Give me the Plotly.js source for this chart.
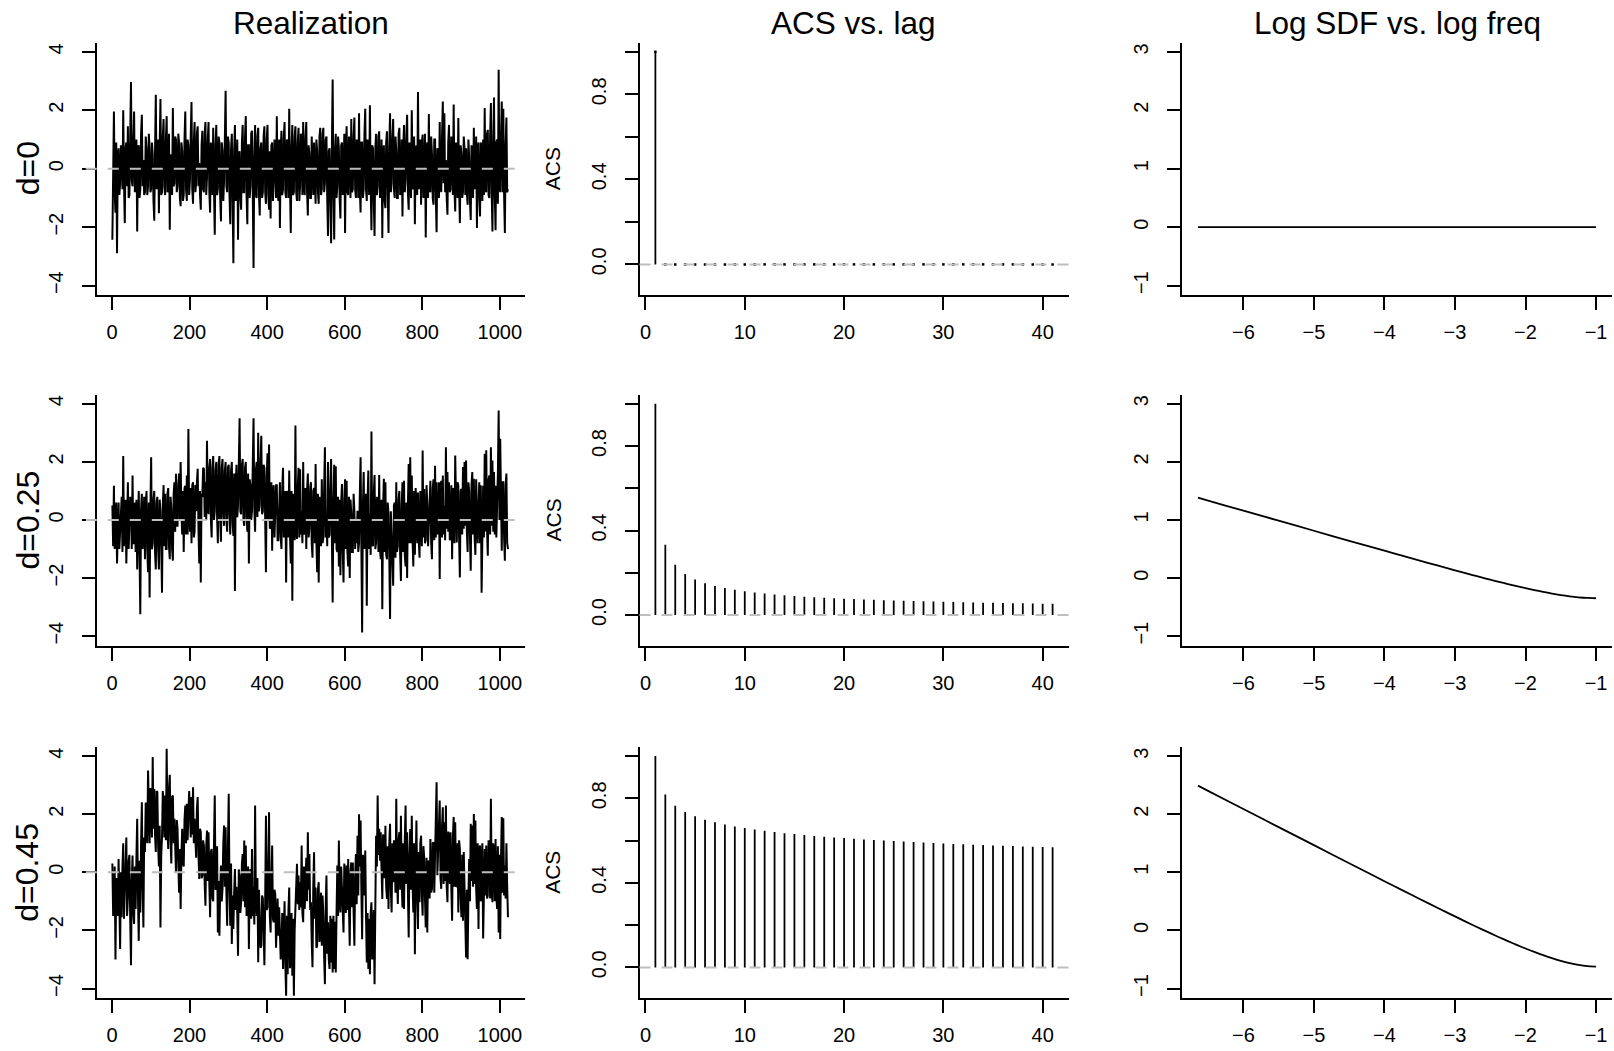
<!DOCTYPE html>
<html>
<head>
<meta charset="utf-8">
<script src="https://cdn.plot.ly/plotly-3.0.1.min.js"></script>
<style>html,body{margin:0;padding:0;background:#fff;}#chart{width:1614px;height:1051px;}</style>
</head>
<body>
<div id="chart"></div>
<script>
// ---------------- data ----------------
const rowLabels = ["d=0", "d=0.25", "d=0.45"];
const colTitles = ["Realization", "ACS vs. lag", "Log SDF vs. log freq"];

// realizations: samples at t = 1, 5, 9, ... (peaks/troughs)
const realD0 = [
 -2.43,1.96,-1.5,-2.89,0.7,-0.5,0.6,2.0,-1.86,0.9,1.45,-0.9,2.97,-0.6,1.96,-0.4,
 -2.15,0.8,-0.7,1.85,0.3,-0.8,0.7,-0.6,0.7,-0.7,0.5,-1.78,2.53,-0.5,-1.52,2.39,
 -0.8,1.7,-0.9,1.8,-0.7,-2.09,0.4,2.08,-0.5,1.0,-0.6,0.9,-1.28,0.6,-0.9,1.96,
 -1.1,0.8,-0.4,2.28,-1.2,1.6,-0.5,1.45,0.2,-1.4,1.3,-0.8,1.6,-0.3,1.6,-1.5,
 0.5,1.4,-2.26,1.5,-0.7,0.9,-1.8,0.6,-0.4,2.67,-0.8,0.9,-1.9,1.2,-3.23,1.5,
 -0.9,-2.43,0.6,-1.4,1.5,-0.8,1.8,-1.9,0.8,-0.6,1.3,-3.4,1.5,-1.0,1.4,-1.6,
 0.9,-0.8,1.45,-1.2,1.5,-1.4,-1.7,0.9,-0.5,0.6,1.8,-1.1,-2.03,1.3,-0.7,1.6,
 -1.0,0.9,2.05,-2.2,1.5,-0.8,1.45,-1.1,1.4,-0.6,0.8,1.6,-0.9,1.6,-1.6,0.5,
 -1.0,0.4,0.9,-1.2,0.6,-1.2,1.4,-0.7,1.4,-0.5,1.1,-2.3,0.7,-2.55,3.05,-2.42,
 1.2,-0.6,0.7,-1.7,0.9,-0.4,-2.2,1.45,-0.9,0.8,1.7,-0.7,1.75,-1.0,0.6,1.9,
 -1.5,0.9,-0.7,2.05,-1.1,0.4,2.17,-2.1,0.7,-2.3,1.2,-0.6,1.28,-0.8,-2.37,0.8,
 -1.35,1.28,-2.2,1.9,-0.5,1.7,-1.0,0.6,-1.0,1.4,-0.8,-1.63,1.5,-0.4,1.85,-1.4,
 0.5,2.0,-0.7,-1.9,0.8,2.63,-0.3,-1.23,1.17,-0.6,-2.35,0.9,1.87,-0.8,0.5,-1.23,
 1.0,-2.17,0.6,1.6,-0.8,2.3,1.9,0.3,-1.57,1.5,-0.7,0.8,2.2,-1.46,0.4,1.74,
 -1.86,0.5,-0.8,0.7,0.7,-1.23,0.4,-1.75,0.6,1.4,-0.3,-2.03,0.9,-1.63,0.6,1.0,
 2.08,-0.8,1.33,-1.0,2.25,-2.15,2.44,-2.1,1.0,3.39,-0.8,2.3,2.05,-2.2,1.75,-0.7
];
// in-between samples at t = 3, 7, 11, ... (estimated from the dense band)
const realD0Mid = [
 0.6,-0.8,0.9,0.4,-0.9,0.8,-0.7,-0.5,0.7,-0.6,-1.0,1.1,-0.4,0.9,-0.8,1.0,
 0.7,-1.0,1.2,-0.6,-0.9,1.1,-0.9,1.2,-0.8,0.9,-1.1,0.6,-0.7,1.0,0.8,-0.9,
 1.1,-0.6,1.0,-0.8,1.2,0.5,-0.9,-0.6,1.1,-0.8,1.2,-1.0,0.9,-1.1,1.0,-0.7,
 1.0,-0.9,1.1,-0.7,0.9,-0.8,1.2,-0.6,-0.9,0.8,-0.7,1.2,-0.9,1.0,-0.8,0.9,
 -0.9,-0.7,0.8,-0.9,1.1,-1.0,0.9,-1.1,1.0,-0.6,1.1,-0.9,0.7,-1.0,0.6,-1.1,
 1.0,0.5,-1.0,0.9,-0.8,1.1,-0.9,0.8,-1.0,1.2,-0.8,0.4,-0.9,1.1,-0.9,0.7,
 -1.0,1.1,-0.8,1.0,-0.9,0.6,0.8,-1.1,1.0,-1.0,-0.7,1.0,0.6,-0.9,1.1,-0.8,
 1.0,-1.0,-0.6,0.7,-0.9,1.1,-0.8,0.9,-1.1,1.2,-0.9,-0.6,1.1,-0.8,0.8,-1.0,
 1.1,-0.9,-1.0,1.0,-0.8,1.1,-0.9,1.2,-0.8,1.0,-1.0,0.6,-1.1,0.7,-0.8,0.6,
 -1.0,1.1,-1.0,0.8,-0.9,1.2,0.6,-0.8,1.1,-1.0,-0.8,1.1,-0.7,1.0,-1.0,-0.7,
 0.9,-1.0,1.2,-0.7,1.0,-0.9,-0.6,0.8,-1.1,0.7,-0.9,1.1,-1.0,1.0,0.6,-1.1,
 0.9,-0.8,0.7,-0.8,1.1,-0.7,1.1,-1.0,1.2,-0.9,1.0,0.7,-0.8,1.1,-0.8,0.9,
 -1.0,-0.6,1.1,0.6,-0.9,-0.7,1.0,0.9,-1.0,1.2,0.6,-1.0,-0.7,1.1,-1.0,1.0,
 -1.0,0.7,-1.0,-0.6,1.1,-0.5,-0.8,-1.0,0.9,-0.8,1.1,-0.9,-0.7,0.9,-1.0,-0.6,
 0.8,-1.0,1.1,-0.9,-0.8,1.0,-1.1,0.8,-1.0,-0.7,1.1,0.7,-1.0,0.9,-1.1,-0.9,
 -0.7,1.2,-0.9,1.1,-0.8,0.8,-0.9,0.9,-1.2,-0.6,1.1,-0.8,-0.9,0.8,-0.8
];
const realD25 = [
 0.5,1.18,-0.5,-1.5,0.6,-0.4,0.8,2.2,-0.2,-1.5,1.3,-0.3,0.5,1.53,-0.8,-1.1,
 -1.7,1.0,-3.24,0.9,-0.5,-1.35,1.0,-1.8,-2.67,2.16,-0.8,1.0,-1.7,0.8,-1.7,0.3,
 -2.5,1.2,0.9,-1.0,1.1,-1.35,0.4,-1.4,1.3,1.59,-0.2,1.6,2.0,-0.5,-1.1,1.18,
 1.53,3.13,-0.4,-0.8,1.3,-0.4,0.3,1.76,-1.5,-2.15,0.8,1.76,1.3,2.73,0.2,2.1,
 -0.6,2.2,0.3,2.0,-0.8,2.2,-0.75,2.1,-0.2,2.0,-0.4,1.9,-0.5,2.0,-0.55,-2.44,
 1.9,0.5,3.5,0.2,2.1,-0.2,2.0,-0.4,-1.5,1.2,0.3,3.5,-0.4,2.0,3.0,0.5,
 2.9,0.3,1.8,-1.8,2.3,2.6,-0.2,-1.06,1.2,0.3,1.2,-0.7,1.3,-1.0,1.8,-0.1,
 -2.15,0.9,1.7,-1.5,-2.78,0.4,3.25,-0.65,1.8,1.75,0.3,2.0,-0.3,-1.0,1.6,-0.3,
 1.3,-1.3,1.1,1.93,-1.8,-2.15,0.5,1.4,-0.6,2.5,0.2,2.0,-0.5,2.1,-2.84,1.9,
 1.85,-1.1,-1.6,-1.9,1.24,-2.15,1.4,1.35,-1.6,-2.0,0.25,-1.1,0.3,0.0,0.32,-0.8,
 2.16,-3.87,1.65,-0.6,-2.95,1.7,0.2,3.05,-0.9,1.55,-0.77,0.4,1.55,-1.35,-3.07,1.42,
 1.3,-1.35,0.2,-3.41,-0.5,-2.26,0.6,1.3,-0.9,1.0,-2.1,1.3,1.35,-1.6,-2.0,1.93,
 2.16,1.53,-1.6,-1.2,0.5,0.95,-1.3,0.4,2.39,1.07,-0.7,0.6,-0.2,1.35,-1.35,1.4,
 1.87,1.3,-0.2,-2.03,1.35,1.53,0.5,2.5,1.65,1.3,-0.6,-1.35,0.3,2.22,-0.77,1.18,
 -1.98,1.07,1.82,2.0,2.05,-1.1,1.0,-1.75,1.65,1.42,-1.2,0.4,0.38,-0.8,-2.5,1.18,
 2.28,2.4,-1.23,1.53,2.5,2.05,1.65,1.18,0.2,3.77,2.8,-1.06,1.3,-1.4,1.6,-1.0
];
const realD25Mid = [
 -0.9,-1.0,0.6,0.5,-1.0,0.7,-1.1,-0.9,0.7,0.6,-1.0,0.8,-1.0,-0.8,0.6,0.7,
 0.6,-1.1,0.4,-1.0,0.8,0.5,-1.0,0.6,0.3,-1.0,0.7,-1.1,0.6,-1.0,0.7,-0.9,
 0.5,-0.9,-1.0,0.9,-0.9,0.8,-1.0,0.9,-0.4,-0.2,1.2,0.0,0.3,1.0,1.1,-0.5,
 -0.5,0.2,1.1,1.2,-0.6,1.2,1.3,-0.3,1.0,0.9,1.8,0.1,0.0,0.4,1.8,0.0,
 1.8,0.0,1.7,0.1,1.9,0.0,1.8,0.2,1.7,0.0,1.8,0.2,1.7,-0.1,1.6,1.2,
 0.1,1.9,0.3,1.9,0.0,1.8,0.1,1.6,1.4,0.0,1.9,0.4,1.7,0.1,0.3,2.0,
 0.2,1.9,0.0,1.5,0.0,-0.3,1.3,1.0,-0.6,1.2,-0.7,1.2,-0.6,1.1,-0.6,1.0,
 1.0,-0.6,-0.5,1.0,0.9,-0.7,-0.4,1.1,-0.6,-0.5,-0.8,-0.5,1.1,1.0,-0.6,1.1,
 -0.8,1.0,-0.8,-0.7,0.9,0.8,-0.9,-0.8,1.1,-0.6,-0.9,-0.6,1.1,-0.7,0.6,-0.8,
 -1.0,0.8,0.7,0.6,-1.1,0.7,-1.0,-1.1,0.8,0.7,-1.1,0.9,-1.0,-0.8,-1.1,0.9,
 -0.9,0.5,-1.0,0.9,0.6,-1.0,-1.2,-0.8,0.9,-1.0,0.8,-1.1,-1.0,0.7,0.4,-1.1,
 -1.2,0.6,-1.3,0.3,-1.5,0.5,-1.3,-1.1,0.7,-1.2,0.5,-1.1,-1.2,0.6,0.5,-0.8,
 -0.8,-0.7,1.0,1.1,-0.8,-0.7,1.0,-0.9,-0.6,-0.8,1.2,-0.9,1.1,-0.8,1.1,-0.7,
 -0.6,-0.5,1.3,1.1,-0.6,-0.5,-0.7,-0.3,-0.4,-0.7,1.2,1.1,-0.8,-0.4,1.3,-0.6,
 1.0,-0.5,-0.3,-0.2,-0.4,1.3,-0.6,1.2,-0.5,-0.6,1.4,-0.8,1.3,1.2,0.8,-0.6,
 -0.4,-0.3,1.4,-0.5,-0.2,-0.4,-0.5,-0.6,1.6,0.0,-0.4,1.3,-0.6,1.2,-0.8
];
const realD45 = [
 0.3,-1.26,-3.0,-0.5,0.46,-2.64,-1.55,1.0,-0.7,1.2,-0.9,0.6,-3.2,0.58,-1.78,-1.26,
 1.84,-2.36,-1.38,2.41,-1.9,0.7,1.84,3.5,1.0,2.41,3.97,2.87,0.7,2.76,0.2,-1.9,
 1.2,2.3,2.64,4.25,0.8,3.36,0.3,2.64,1.84,0.0,1.5,-0.7,-1.26,1.5,0.2,2.3,
 2.36,1.84,2.1,2.59,2.93,1.84,0.5,2.59,-0.23,1.38,-0.11,0.92,-1.15,1.44,1.38,-1.55,
 0.8,-1.0,2.64,-0.46,-2.07,-2.18,0.23,-0.57,1.61,1.55,-1.84,2.7,-1.84,-2.47,-1.95,0.11,
 -0.5,-2.87,-0.11,-1.03,0.63,1.09,0.92,-1.38,-2.64,0.11,0.8,-0.5,2.3,-1.5,-3.1,-1.61,
 -2.53,-0.9,-3.2,1.95,-1.21,2.07,-2.07,0.92,-1.72,-0.75,-1.78,-2.18,-2.07,-2.64,-3.33,-1.0,
 -4.25,-3.51,-0.52,-2.99,-3.56,-4.25,-1.15,0.29,-0.11,-0.34,0.92,-1.72,-1.26,0.5,1.38,0.63,
 -1.03,-3.27,0.69,-0.52,-2.53,-0.34,-2.07,-2.53,-1.5,-3.85,-0.11,-1.72,-3.33,-3.1,-3.45,-3.33,
 -3.45,0.23,1.09,-1.38,-0.69,-2.07,-0.11,0.23,0.46,-2.53,0.34,0.34,-2.53,0.63,1.26,2.0,
 1.78,-2.3,0.34,0.75,-3.1,-3.33,-3.51,-1.03,-2.5,-3.85,1.26,2.64,1.5,1.38,-0.92,1.15,
 1.6,-0.92,-1.26,1.67,-1.38,-0.34,0.5,2.53,-1.09,1.38,1.95,-1.21,-1.26,2.3,1.38,-2.24,
 1.49,1.95,-1.38,-2.82,1.78,-1.95,-1.03,1.26,-1.49,0.52,-1.9,-2.07,0.34,1.15,-0.57,1.03,
 0.3,3.1,0.92,2.47,-0.57,2.24,1.72,2.3,-1.03,1.21,1.38,-1.67,1.9,1.72,-0.46,-1.38,
 0.8,-1.55,-1.67,-0.3,-2.93,-2.99,0.46,1.67,1.61,2.01,1.78,-1.26,-1.95,0.92,0.0,-2.28,
 0.8,0.92,-0.8,0.8,2.53,-1.03,0.69,1.15,-1.26,-2.07,-2.3,1.9,1.86,0.23,1.0,-1.55
];
const realD45Mid = [
 -1.5,0.2,-0.2,-1.5,-1.6,0.0,0.2,-1.6,0.3,-1.5,0.4,-1.6,-0.3,-1.4,0.2,0.5,
 -0.8,0.4,1.0,-0.6,1.2,2.4,1.0,1.4,2.9,1.2,1.5,1.3,2.8,0.9,1.6,0.6,
 2.8,1.2,1.1,1.6,2.9,1.1,2.6,1.0,0.9,1.8,0.3,0.8,0.6,0.3,1.8,1.0,
 1.1,2.8,1.2,1.3,1.0,0.9,2.2,0.6,1.5,-0.2,1.1,-0.4,0.9,-0.3,-0.4,0.7,
 -0.9,1.0,-0.6,0.9,-0.3,-0.6,-1.0,1.0,-0.5,-0.7,0.9,-0.5,0.3,-0.8,-0.7,-1.3,
 -1.4,0.1,-1.4,0.3,-1.0,-1.2,-1.5,0.2,-0.3,-1.6,-1.5,-1.8,-0.9,-0.2,-0.6,-2.6,
 -0.8,-2.5,-1.0,-1.3,0.2,-1.5,-0.3,-1.6,-0.6,-2.6,-0.9,-1.2,-3.0,-1.4,-1.2,-3.2,
 -1.5,-1.3,-3.3,-1.4,-1.6,-2.0,-0.5,-1.1,-1.3,-1.2,-1.4,0.2,-0.3,-1.0,-0.6,-1.3,
 -2.4,-0.5,-1.6,-2.6,-0.6,-2.4,-0.7,-0.8,-2.9,-1.2,-2.8,-3.0,-1.5,-1.6,-1.5,-1.7,
 -1.4,-1.5,-0.9,0.2,-1.7,0.3,-1.4,-1.3,-1.2,0.0,-1.2,-1.4,-0.1,-1.1,-0.8,0.2,
 -0.6,0.6,-0.8,-1.5,-1.4,-1.6,-1.4,-3.0,-1.3,-1.2,0.2,0.6,0.4,0.1,1.3,-0.2,
 -0.5,0.9,1.0,-0.6,1.0,1.1,-0.7,-0.2,1.1,-0.6,-0.3,1.0,1.1,-0.4,-0.6,0.6,
 -0.6,-0.4,1.0,0.3,-0.8,0.7,1.0,-0.8,0.9,-0.9,0.5,0.4,-0.9,-0.7,1.0,-0.7,
 1.6,-0.1,1.8,-0.2,1.6,-0.4,-0.3,-0.5,1.4,-0.4,-0.6,1.2,-0.5,-0.5,1.0,1.1,
 -0.9,0.6,0.7,-1.3,-0.6,-0.8,-1.0,-0.3,-0.5,-0.4,-0.6,1.0,0.8,-1.0,1.0,0.4,
 -0.8,-0.9,1.1,-0.9,-0.6,1.0,-1.0,-0.8,0.9,0.6,0.4,-0.7,-0.8,-0.9,-0.5
];

// ACS: lags 0..40 drawn at positions 1..41
const acsPos = [1,2,3,4,5,6,7,8,9,10,11,12,13,14,15,16,17,18,19,20,21,22,23,24,25,26,27,28,29,30,31,32,33,34,35,36,37,38,39,40,41];
const acsD0 = [1,0,0,0,0,0,0,0,0,0,0,0,0,0,0,0,0,0,0,0,0,0,0,0,0,0,0,0,0,0,0,0,0,0,0,0,0,0,0,0,0];
const acsD25 = [1,0.3333,0.2381,0.1948,0.1688,0.1511,0.1380,0.1278,0.1195,0.1127,0.1069,0.1019,0.0976,0.0938,0.0904,0.0873,0.0845,0.0820,0.0797,0.0776,0.0756,0.0738,0.0721,0.0705,0.0690,0.0676,0.0663,0.0651,0.0639,0.0628,0.0617,0.0607,0.0597,0.0588,0.0579,0.0571,0.0563,0.0555,0.0548,0.0541,0.0534];
const acsD45 = [1,0.8182,0.7654,0.7354,0.7147,0.6990,0.6864,0.6759,0.6670,0.6592,0.6523,0.6461,0.6405,0.6354,0.6307,0.6264,0.6224,0.6186,0.6151,0.6118,0.6087,0.6057,0.6029,0.6002,0.5977,0.5953,0.5930,0.5908,0.5886,0.5865,0.5845,0.5826,0.5808,0.5790,0.5773,0.5756,0.5740,0.5724,0.5709,0.5694,0.5680];

// log SDF vs log frequency
const sdfLogFreq = [-6.644,-6.5,-6,-5.5,-5,-4.5,-4,-3.75,-3.5,-3.25,-3,-2.75,-2.625,-2.5,-2.375,-2.25,-2.125,-2,-1.875,-1.75,-1.625,-1.5,-1.375,-1.25,-1.125,-1];
const sdfD0 = [0,0,0,0,0,0,0,0,0,0,0,0,0,0,0,0,0,0,0,0,0,0,0,0,0,0];
const sdfD25 = [1.384,1.334,1.161,0.988,0.815,0.642,0.471,0.385,0.301,0.217,0.134,0.052,0.013,-0.027,-0.065,-0.102,-0.138,-0.173,-0.206,-0.237,-0.266,-0.292,-0.314,-0.331,-0.342,-0.347];
const sdfD45 = [2.491,2.401,2.089,1.778,1.467,1.156,0.847,0.693,0.541,0.390,0.241,0.094,0.023,-0.048,-0.117,-0.184,-0.249,-0.312,-0.371,-0.427,-0.479,-0.525,-0.564,-0.595,-0.616,-0.624];

// tick labels
const realXTicks = [0,200,400,600,800,1000];
const realYTicks = [-4,-2,0,2,4];
const realYText = ["\u22124","\u22122","0","2","4"];
const acsXTicks = [0,10,20,30,40];
const acsYTicks = [0,0.2,0.4,0.6,0.8,1.0];
const acsYText = ["0.0","","0.4","","0.8",""];
const sdfXTicks = [-6,-5,-4,-3,-2,-1];
const sdfXText = ["\u22126","\u22125","\u22124","\u22123","\u22122","\u22121"];
const sdfYTicks = [-1,0,1,2,3];
const sdfYText = ["\u22121","0","1","2","3"];

// ---------------- layout geometry ----------------
const W = 1614, H = 1051;
const FONT = "Liberation Sans, Arimo, Arial, Helvetica, sans-serif";
const colPx = [[96.5,525],[639.5,1068.5],[1182,1612]];
const rowPx = [[42.5,295],[394.5,645.5],[746.8,997.8]];
const yStandoff = [11, 11, 11];
const xdom = c => [colPx[c][0]/W, colPx[c][1]/W];
const ydom = r => [1-rowPx[r][1]/H, 1-rowPx[r][0]/H];

function interleave(main, mid){
  const out = [];
  for (let i=0;i<main.length;i++){
    out.push(main[i]);
    if (i<mid.length) out.push(mid[i]);
  }
  return out;
}
const reals = [interleave(realD0, realD0Mid), interleave(realD25, realD25Mid), interleave(realD45, realD45Mid)];
const acss = [acsD0, acsD25, acsD45];
const sdfs = [sdfD0, sdfD25, sdfD45];

const baseAxis = {
  showline:true, linewidth:2, linecolor:"#000", mirror:false,
  ticks:"outside", ticklen:13, tickwidth:2, tickcolor:"#000",
  showgrid:false, zeroline:false, fixedrange:true,
  tickfont:{family:FONT, size:20, color:"#000"},
  tickmode:"array", ticklabelstandoff:5
};

const traces = [];
const layout = {
  width:W, height:H, margin:{l:0,r:0,t:0,b:0},
  paper_bgcolor:"#fff", plot_bgcolor:"#fff", showlegend:false,
  shapes:[], annotations:[]
};

for (let r=0;r<3;r++){
  for (let c=0;c<3;c++){
    const k = 3*r+c+1;
    const xa = "xaxis"+(k===1?"":k), ya = "yaxis"+(k===1?"":k);
    const xr = "x"+(k===1?"":k), yr = "y"+(k===1?"":k);
    const ax = Object.assign({}, baseAxis, {domain:xdom(c), anchor:yr});
    const ay = Object.assign({}, baseAxis, {domain:ydom(r), anchor:xr, tickangle:-90, ticklabelstandoff:yStandoff[c]});
    if (c===0){
      ax.range=[-39.92,1064.92]; ax.tickvals=realXTicks; ax.ticktext=realXTicks.map(String);
      ay.range=[-4.32,4.32]; ay.tickvals=realYTicks; ay.ticktext=realYText;
      traces.push({type:"scatter", mode:"lines", x0:1, dx:2, y:reals[r],
        xaxis:xr, yaxis:yr, line:{color:"#000", width:2.0}, hoverinfo:"skip"});
      layout.shapes.push({type:"line", xref:xr+" domain", yref:yr, x0:-0.025, x1:1, y0:0, y1:0,
        line:{color:"#BEBEBE", width:2, dash:"11px,11px"}, layer:"above"});
    } else if (c===1){
      ax.range=[-0.6,42.6]; ax.tickvals=acsXTicks; ax.ticktext=acsXTicks.map(String);
      ay.range=[-0.144,1.044]; ay.tickvals=acsYTicks; ay.ticktext=acsYText;
      traces.push({type:"bar", x:acsPos, y:acss[r], width:0.18, xaxis:xr, yaxis:yr,
        marker:{color:"#000", line:{width:0}}, hoverinfo:"skip"});
      if (r===0){
        traces.push({type:"scatter", mode:"markers", x:acsPos, y:acss[r], xaxis:xr, yaxis:yr,
          marker:{color:"#000", size:2.5, symbol:"square"}, hoverinfo:"skip"});
      }
      layout.shapes.push({type:"line", xref:xr+" domain", yref:yr, x0:0, x1:1, y0:0, y1:0,
        line:{color:"#BEBEBE", width:2, dash:"11px,11px"}, layer:"above"});
      layout.annotations.push({text:"ACS", xref:"paper", yref:"paper",
        x:552.5/W, y:(ydom(r)[0]+ydom(r)[1])/2, xanchor:"center", yanchor:"middle",
        textangle:-90, showarrow:false, font:{family:FONT, size:21, color:"#000"}});
    } else {
      ax.range=[-6.870,-0.774]; ax.tickvals=sdfXTicks; ax.ticktext=sdfXText;
      ay.range=[-1.16,3.16]; ay.tickvals=sdfYTicks; ay.ticktext=sdfYText;
      traces.push({type:"scatter", mode:"lines", x:sdfLogFreq, y:sdfs[r],
        xaxis:xr, yaxis:yr, line:{color:"#000", width:1.8, shape:"spline", smoothing:0.6}, hoverinfo:"skip"});
    }
    layout[xa]=ax; layout[ya]=ay;
  }
  layout.annotations.push({text:rowLabels[r], xref:"paper", yref:"paper",
    x:27.5/W, y:(ydom(r)[0]+ydom(r)[1])/2, xanchor:"center", yanchor:"middle",
    textangle:-90, showarrow:false, font:{family:FONT, size:32, color:"#000"}});
}
for (let c=0;c<3;c++){
  layout.annotations.push({text:colTitles[c], xref:"paper", yref:"paper",
    x:(xdom(c)[0]+xdom(c)[1])/2, y:1-23/H, xanchor:"center", yanchor:"middle",
    showarrow:false, font:{family:FONT, size:31.5, color:"#000"}});
}

Plotly.newPlot("chart", traces, layout, {displayModeBar:false, staticPlot:true});
</script>
</body>
</html>
